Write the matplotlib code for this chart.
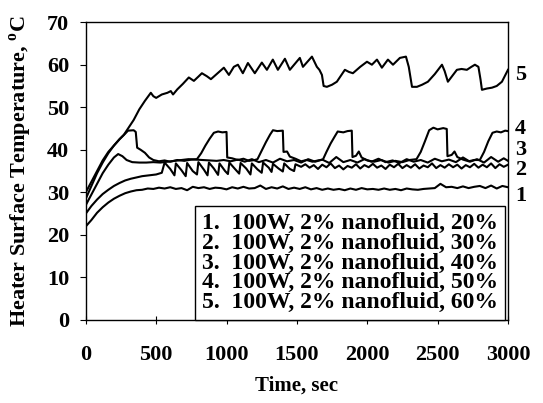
import matplotlib
matplotlib.use("Agg")
import matplotlib.pyplot as plt

plt.rcParams['font.family'] = ['Liberation Serif', 'DejaVu Serif']
plt.rcParams['font.weight'] = 'bold'
plt.rcParams['mathtext.fontset'] = 'custom'
plt.rcParams['mathtext.rm'] = 'Liberation Serif:bold'
plt.rcParams['mathtext.bf'] = 'Liberation Serif:bold'

# curve 1: 20%
t1 = [0, 40, 80, 120, 160, 200, 240, 280, 320, 360, 400, 440, 480, 520, 560, 600, 640, 680,
      720, 760, 800, 840, 880, 920, 960, 1000, 1040, 1080, 1120, 1160, 1200, 1240, 1280, 1320,
      1360, 1400, 1440, 1480, 1520, 1560, 1600, 1640, 1680, 1720, 1760, 1800, 1840, 1880, 1920,
      1960, 2000, 2040, 2080, 2120, 2160, 2200, 2240, 2280, 2320, 2360, 2400, 2440, 2480, 2520,
      2560, 2600, 2640, 2680, 2720, 2760, 2800, 2840, 2880, 2920, 2960, 3000]
T1 = [22.0, 23.5, 25.2, 26.5, 27.6, 28.5, 29.2, 29.8, 30.2, 30.5, 30.6, 30.9, 30.8, 31.1, 30.9,
      31.2, 30.8, 31.0, 30.5, 31.3, 31.0, 31.2, 30.8, 31.1, 31.0, 30.7, 31.2, 30.9, 31.3, 30.9,
      31.0, 31.6, 30.8, 31.2, 30.9, 31.4, 30.8, 31.1, 30.8, 31.2, 30.7, 31.0, 30.6, 30.9, 30.6,
      30.8, 30.5, 30.9, 30.6, 31.0, 30.7, 30.8, 30.6, 30.9, 30.6, 30.8, 30.5, 30.9, 30.7, 30.6,
      30.8, 30.9, 31.0, 32.0, 31.2, 31.3, 31.0, 31.4, 31.0, 31.3, 31.5, 31.0, 31.6, 30.9, 31.5, 31.2]

# curve 2: 30%
t2 = [0, 40, 80, 120, 160, 200, 240, 280, 320, 360, 400, 450, 500, 540,
      560, 600, 630, 640, 680, 710, 720, 760, 790, 800, 840, 865, 875, 910, 940, 950, 990, 1010,
      1020, 1060, 1090, 1100, 1140, 1170, 1180, 1220, 1250, 1260, 1300, 1320, 1330, 1370, 1400,
      1410, 1450, 1480, 1490, 1530, 1560, 1590, 1620, 1650, 1680, 1710, 1740, 1770, 1800, 1830,
      1860, 1890, 1920, 1950, 1980, 2010, 2040, 2070, 2100, 2130, 2160, 2190, 2220, 2250, 2280,
      2310, 2340, 2370, 2400, 2430, 2460, 2490, 2520, 2550, 2580, 2610, 2640, 2670, 2700, 2730,
      2760, 2790, 2820, 2850, 2880, 2910, 2940, 2970, 3000]
T2 = [25.0, 26.8, 28.3, 29.6, 30.6, 31.5, 32.2, 32.8, 33.2, 33.5, 33.8, 34.0, 34.2, 34.6,
      37.0, 35.5, 34.0, 36.8, 35.2, 33.8, 36.9, 35.0, 34.2, 37.1, 35.3, 34.0, 37.0, 35.6, 34.1,
      36.8, 35.0, 34.3, 37.0, 35.5, 34.4, 36.9, 35.6, 34.2, 36.8, 35.4, 34.6, 37.0, 35.8, 34.8,
      36.7, 35.6, 34.9, 36.8, 35.5, 35.0, 36.6, 36.0, 36.6, 35.8, 36.4, 35.5, 36.5, 35.9, 36.8,
      35.7, 36.3, 35.4, 36.2, 35.8, 36.6, 35.6, 36.4, 35.9, 36.7, 35.8, 36.3, 35.5, 36.5, 35.9,
      36.7, 35.7, 36.4, 35.8, 36.6, 35.6, 36.3, 35.9, 36.8, 35.7, 36.4, 35.8, 36.6, 35.9, 36.5,
      35.6, 36.4, 35.9, 36.7, 35.8, 36.5, 35.9, 36.8, 35.7, 36.6, 36.0, 36.5]

# curve 3: 40%
t3 = [0, 40, 80, 120, 160, 200, 230, 260, 290, 330, 380, 430, 480, 530, 580, 630, 680, 730,
      780, 830, 880, 930, 980, 1030, 1080, 1130, 1180, 1230, 1280, 1330, 1380, 1430, 1480, 1530,
      1580, 1630, 1680, 1730, 1780, 1830, 1880, 1930, 1980, 2030, 2080, 2130, 2180, 2230, 2280,
      2330, 2380, 2430, 2480, 2530, 2580, 2630, 2680, 2730, 2780, 2830, 2880, 2930, 2970, 3000]
T3 = [27.0, 29.5, 32.0, 34.5, 36.5, 38.2, 39.0, 38.5, 37.6, 37.1, 37.0, 37.0, 37.1, 37.0, 37.2,
      37.4, 37.6, 37.8, 37.7, 37.6, 37.5, 37.4, 37.6, 37.3, 37.7, 37.2, 37.8, 37.1, 37.6, 37.0,
      37.9, 37.3, 37.6, 37.0, 37.8, 37.2, 37.7, 36.9, 38.3, 37.1, 37.6, 37.0, 37.8, 37.2, 37.9,
      37.1, 37.5, 36.9, 37.8, 37.2, 37.6, 37.0, 37.9, 37.3, 37.7, 37.1, 38.2, 37.2, 37.8, 37.0,
      38.3, 37.2, 38.0, 37.4]

# curve 4: 50%
t4 = [0, 40, 80, 120, 160, 200, 240, 280, 300, 340, 355, 365, 390, 420, 450, 480, 520, 560, 600,
      650, 700, 750, 790, 820, 850, 880, 910, 940, 970, 1000, 1005, 1040, 1080, 1120, 1160, 1200,
      1220, 1250, 1280, 1310, 1330, 1360, 1400, 1405, 1430, 1450, 1490, 1530, 1570, 1610, 1650,
      1685, 1710, 1740, 1770, 1790, 1830, 1860, 1890, 1895, 1920, 1940, 1960, 2000, 2050, 2100,
      2150, 2200, 2250, 2300, 2350, 2380, 2410, 2440, 2470, 2500, 2540, 2565, 2570, 2600, 2620,
      2640, 2680, 2720, 2760, 2800, 2830, 2860, 2890, 2920, 2950, 2980, 3000]
T4 = [28.5, 31.5, 34.5, 37.0, 39.2, 41.0, 42.5, 43.8, 44.5, 44.6, 44.2, 40.5, 40.0, 39.3, 38.2,
      37.6, 37.3, 37.5, 37.2, 37.6, 37.4, 37.7, 37.8, 39.2, 41.0, 42.6, 44.0, 44.3, 44.1, 44.2,
      38.2, 38.0, 37.6, 37.9, 37.4, 37.6, 37.8, 39.8, 41.8, 43.6, 44.6, 44.4, 44.5, 39.5, 39.6,
      38.4, 37.9, 37.3, 37.6, 37.2, 37.5, 37.7, 39.5, 41.5, 43.2, 44.3, 44.1, 44.4, 44.5, 38.3,
      38.6, 39.6, 38.2, 37.5, 37.2, 37.6, 37.0, 37.4, 37.1, 37.6, 37.8, 39.5, 42.0, 44.6, 45.2,
      44.8, 45.1, 44.9, 38.5, 38.8, 39.6, 38.3, 37.7, 37.3, 37.6, 37.6, 39.5, 42.0, 44.0, 44.3,
      44.1, 44.5, 44.4]

# curve 5: 60%
t5 = [0, 40, 80, 120, 160, 200, 240, 270, 300, 340, 380, 420, 462, 480, 500, 540, 580, 604, 620,
      650, 690, 732, 768, 800, 825, 860, 889, 930, 981, 1017, 1052, 1081, 1116, 1152, 1201, 1251,
      1287, 1329, 1365, 1415, 1450, 1521, 1543, 1607, 1642, 1660, 1678, 1690, 1713, 1750, 1784,
      1841, 1870, 1898, 1950, 1998, 2033, 2069, 2104, 2147, 2183, 2232, 2275, 2295, 2318, 2353,
      2390, 2431, 2480, 2531, 2550, 2573, 2637, 2670, 2708, 2740, 2765, 2790, 2805, 2815, 2850,
      2886, 2920, 2957, 2980, 3000]
T5 = [30.0, 32.5, 35.0, 37.5, 39.5, 41.0, 42.5, 43.5, 45.0, 47.0, 49.5, 51.5, 53.4, 52.6, 52.2,
      53.0, 53.4, 53.8, 53.0, 54.2, 55.5, 57.0, 56.2, 57.2, 58.0, 57.3, 56.6, 57.8, 59.3, 57.6,
      59.5, 60.0, 58.0, 60.4, 58.0, 60.5, 58.8, 61.2, 58.8, 61.4, 58.8, 61.6, 59.5, 61.9, 59.5,
      58.8, 57.6, 55.0, 54.8, 55.3, 56.0, 58.8, 58.3, 58.0, 59.5, 60.7, 60.0, 61.2, 59.3, 61.2,
      60.0, 61.6, 61.9, 59.5, 54.8, 54.8, 55.3, 56.0, 57.8, 60.0, 58.5, 56.0, 58.8, 59.0, 58.8,
      59.5, 60.0, 59.5, 56.5, 54.1, 54.4, 54.6, 55.0, 56.0, 57.5, 58.8]

series = [(t1, T1), (t2, T2), (t3, T3), (t4, T4), (t5, T5)]
labels = ["1.  100W, 2% nanofluid, 20%",
          "2.  100W, 2% nanofluid, 30%",
          "3.  100W, 2% nanofluid, 40%",
          "4.  100W, 2% nanofluid, 50%",
          "5.  100W, 2% nanofluid, 60%"]
end_tags = ["1", "2", "3", "4", "5"]
tag_y = [29.2, 35.2, 40.0, 44.9, 57.6]

fig = plt.figure(figsize=(5.43, 4.03), dpi=100)
ax = fig.add_axes([0.158, 0.206, 0.7775, 0.739])

handles = []
for (t, T), lab in zip(series, labels):
    h, = ax.plot(t, T, color='black', linewidth=1.5, label=lab)
    handles.append(h)

ax.set_xlim(0, 3000)
ax.set_ylim(0, 70)
ax.set_xticks(range(0, 3001, 500))
ax.set_yticks(range(0, 71, 10))
ax.tick_params(axis='x', direction='inout', length=6, pad=15, labelsize=16)
ax.tick_params(axis='y', direction='out', length=4, pad=8, labelsize=16)
for sp in ax.spines.values():
    sp.set_linewidth(1.0)

ax.set_xlabel("Time, sec", fontsize=15, fontweight='bold', labelpad=8)
ax.set_ylabel(r"Heater Surface Temperature, $^{\mathbf{o}}$C", fontsize=16,
              fontweight='bold', labelpad=9)

tr = ax.get_yaxis_transform()
for tag, y in zip(end_tags, tag_y):
    ax.text(1.03, y, tag, transform=tr, fontsize=16, fontweight='bold',
            ha='center', va='center', clip_on=False)

leg = ax.legend(handles, labels, loc='lower right', bbox_to_anchor=(0.993, 0.0),
                borderaxespad=0, handlelength=0, handletextpad=0, labelspacing=-0.08,
                fancybox=False, edgecolor='black', framealpha=1, borderpad=0.3,
                prop={'family': 'Liberation Serif', 'weight': 'bold', 'size': 17})
leg.get_frame().set_linewidth(1.0)
for h in leg.legend_handles:
    h.set_visible(False)

fig.savefig("out.png", dpi=100)
